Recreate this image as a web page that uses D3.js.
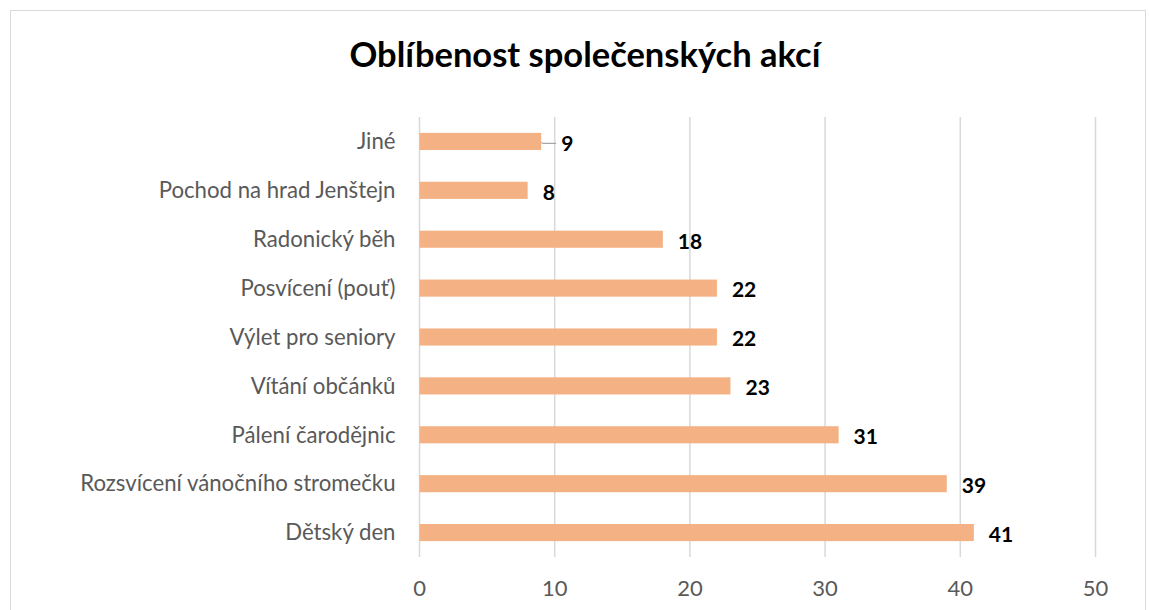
<!DOCTYPE html>
<html>
<head>
<meta charset="utf-8">
<script src="https://cdn.jsdelivr.net/npm/d3@7"></script>
<style>
  body { margin: 0; background: #fff; }
  text { font-family: Lato, "Open Sans", sans-serif; }
</style>
</head>
<body>
<script>
// Data, top to bottom as drawn
var categories = ["Jiné", "Pochod na hrad Jenštejn", "Radonický běh", "Posvícení (pouť)",
                  "Výlet pro seniory", "Vítání občánků", "Pálení čarodějnic",
                  "Rozsvícení vánočního stromečku", "Dětský den"];
var values = [9, 8, 18, 22, 22, 23, 31, 39, 41];
var xTicks = [0, 10, 20, 30, 40, 50];
var title = "Oblíbenost společenských akcí";

var W = 1149, H = 610;
var margin = {top: 117, right: 54, bottom: 53, left: 419.5},
    width = 1095.5 - margin.left,
    height = H - margin.top - margin.bottom;

var svg = d3.select("body").append("svg")
            .attr("width", W)
            .attr("height", H);

// chart frame
svg.append("rect")
   .attr("x", 10.5).attr("y", 10.5)
   .attr("width", W - 14).attr("height", H + 20)
   .attr("fill", "none")
   .attr("stroke", "#d9d9d9");

svg.append("text")
   .attr("x", 585).attr("y", 67)
   .attr("text-anchor", "middle")
   .attr("font-size", 34.5)
   .attr("font-weight", "bold")
   .attr("fill", "#000")
   .text(title);

var plot = svg.append("g")
              .attr("transform", "translate(" + margin.left + "," + margin.top + ")");

var x = d3.scaleLinear().domain([0, 50]).range([0, width]);
var y = d3.scaleBand().domain(categories).range([0, height]).paddingInner(0.65).paddingOuter(0.325);

// gridlines
plot.selectAll(".grid")
    .data(xTicks)
    .enter().append("line")
    .attr("x1", d => x(d)).attr("x2", d => x(d))
    .attr("y1", 0).attr("y2", height)
    .attr("stroke", "#d9d9d9")
    .attr("stroke-width", 1.5);

// x tick labels
plot.selectAll(".xt")
    .data(xTicks)
    .enter().append("text")
    .attr("x", d => x(d))
    .attr("y", height + 39)
    .attr("text-anchor", "middle")
    .attr("font-size", 22)
    .attr("fill", "#595959")
    .text(d => d);

// category labels
plot.selectAll(".cat")
    .data(categories)
    .enter().append("text")
    .attr("x", -24)
    .attr("y", d => y(d) + y.bandwidth() / 2)
    .attr("dy", "0.35em")
    .attr("text-anchor", "end")
    .attr("font-size", 22.2)
    .attr("fill", "#595959")
    .text(d => d);

// bars
plot.selectAll(".bar")
    .data(values)
    .enter().append("rect")
    .attr("x", 0)
    .attr("y", (d, i) => y(categories[i]))
    .attr("width", d => x(d))
    .attr("height", y.bandwidth())
    .attr("fill", "#f4b183");

// leader line for the first label
plot.append("path")
    .attr("d", "M" + x(values[0]) + "," + (y(categories[0]) + y.bandwidth() / 2 + 1) +
               " l2,1 h13")
    .attr("fill", "none")
    .attr("stroke", "#a6a6a6")
    .attr("stroke-width", 1.2);

// value labels
plot.selectAll(".val")
    .data(values)
    .enter().append("text")
    .attr("x", (d, i) => x(d) + (i === 0 ? 20 : 15))
    .attr("y", (d, i) => y(categories[i]) + y.bandwidth() / 2 + 2)
    .attr("dy", "0.35em")
    .attr("font-size", 21)
    .attr("font-weight", "bold")
    .attr("fill", "#000")
    .text(d => d);
</script>
</body>
</html>
